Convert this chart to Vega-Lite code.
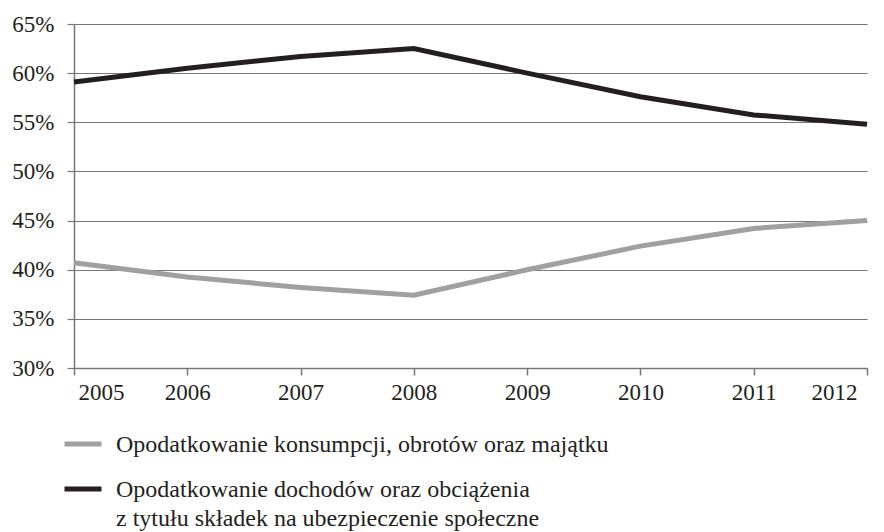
{
  "$schema": "https://vega.github.io/schema/vega-lite/v6.json",
  "width": 793,
  "height": 344,
  "autosize": {"type": "none"},
  "padding": {"left": 74, "top": 24, "right": 17, "bottom": 164},
  "background": "white",
  "config": {
    "view": {"stroke": null},
    "font": "Liberation Serif",
    "axis": {"labelFont": "Liberation Serif", "labelFontSize": 23, "labelColor": "#231f20"},
    "legend": {"labelFont": "Liberation Serif", "labelFontSize": 24, "labelColor": "#231f20"},
    "style": {"guide-label": {"font": "Liberation Serif", "fill": "#231f20", "dy": -11, "lineHeight": 29}}
  },
  "data": {
    "values": [
      {"year": 2005, "value": 0.407, "series": "Opodatkowanie konsumpcji, obrotów oraz majątku"},
      {"year": 2006, "value": 0.3925, "series": "Opodatkowanie konsumpcji, obrotów oraz majątku"},
      {"year": 2007, "value": 0.382, "series": "Opodatkowanie konsumpcji, obrotów oraz majątku"},
      {"year": 2008, "value": 0.374, "series": "Opodatkowanie konsumpcji, obrotów oraz majątku"},
      {"year": 2009, "value": 0.400, "series": "Opodatkowanie konsumpcji, obrotów oraz majątku"},
      {"year": 2010, "value": 0.424, "series": "Opodatkowanie konsumpcji, obrotów oraz majątku"},
      {"year": 2011, "value": 0.442, "series": "Opodatkowanie konsumpcji, obrotów oraz majątku"},
      {"year": 2012, "value": 0.450, "series": "Opodatkowanie konsumpcji, obrotów oraz majątku"},
      {"year": 2005, "value": 0.591, "series": "Opodatkowanie dochodów oraz obciążenia z tytułu składek na ubezpieczenie społeczne"},
      {"year": 2006, "value": 0.605, "series": "Opodatkowanie dochodów oraz obciążenia z tytułu składek na ubezpieczenie społeczne"},
      {"year": 2007, "value": 0.617, "series": "Opodatkowanie dochodów oraz obciążenia z tytułu składek na ubezpieczenie społeczne"},
      {"year": 2008, "value": 0.625, "series": "Opodatkowanie dochodów oraz obciążenia z tytułu składek na ubezpieczenie społeczne"},
      {"year": 2009, "value": 0.600, "series": "Opodatkowanie dochodów oraz obciążenia z tytułu składek na ubezpieczenie społeczne"},
      {"year": 2010, "value": 0.576, "series": "Opodatkowanie dochodów oraz obciążenia z tytułu składek na ubezpieczenie społeczne"},
      {"year": 2011, "value": 0.5575, "series": "Opodatkowanie dochodów oraz obciążenia z tytułu składek na ubezpieczenie społeczne"},
      {"year": 2012, "value": 0.548, "series": "Opodatkowanie dochodów oraz obciążenia z tytułu składek na ubezpieczenie społeczne"}
    ]
  },
  "mark": {"type": "line", "strokeWidth": 5, "strokeCap": "butt", "strokeJoin": "miter"},
  "encoding": {
    "x": {
      "field": "year",
      "type": "quantitative",
      "scale": {"domain": [2005, 2012], "nice": false, "zero": false},
      "axis": {
        "title": null,
        "values": [2005, 2006, 2007, 2008, 2009, 2010, 2011, 2012],
        "format": "d",
        "grid": false,
        "domainColor": "#777777",
        "domainWidth": 1.5,
        "tickColor": "#777777",
        "tickWidth": 1.5,
        "tickSize": 7,
        "labelFont": "Liberation Serif",
        "labelFontSize": 23,
        "labelColor": "#231f20",
        "labelPadding": 17,
        "labelBaseline": "top",
        "labelOffset": {"condition": [{"test": "datum.value == 2012", "value": -10}, {"test": "datum.value == 2005", "value": 4}], "value": 0}
      }
    },
    "y": {
      "field": "value",
      "type": "quantitative",
      "scale": {"domain": [0.3, 0.65], "nice": false, "zero": false},
      "axis": {
        "title": null,
        "values": [0.3, 0.35, 0.4, 0.45, 0.5, 0.55, 0.6, 0.65],
        "format": ".0%",
        "grid": true,
        "gridColor": "#777777",
        "gridWidth": 1.2,
        "domainColor": "#777777",
        "domainWidth": 1.5,
        "tickColor": "#777777",
        "tickWidth": 1.2,
        "tickSize": 7,
        "labelFont": "Liberation Serif",
        "labelFontSize": 23,
        "labelColor": "#231f20",
        "labelPadding": 13,
        "labelBaseline": "top"
      }
    },
    "color": {
      "field": "series",
      "type": "nominal",
      "scale": {
        "domain": ["Opodatkowanie konsumpcji, obrotów oraz majątku", "Opodatkowanie dochodów oraz obciążenia z tytułu składek na ubezpieczenie społeczne"],
        "range": ["#a0a0a3", "#231f20"]
      },
      "legend": {
        "title": null,
        "orient": "none",
        "legendX": -12,
        "legendY": 399,
        "direction": "vertical",
        "padding": 0,
        "symbolType": "stroke",
        "symbolSize": 1369,
        "symbolStrokeWidth": 5,
        "labelFont": "Liberation Serif",
        "labelFontSize": 24,
        "labelColor": "#231f20",
        "labelOffset": 12,
        "labelBaseline": "top",
        "labelLimit": 0,
        "rowPadding": 11,
        "labelExpr": "datum.label == 'Opodatkowanie dochodów oraz obciążenia z tytułu składek na ubezpieczenie społeczne' ? ['Opodatkowanie dochodów oraz obciążenia', 'z tytułu składek na ubezpieczenie społeczne'] : datum.label"
      }
    }
  }
}
